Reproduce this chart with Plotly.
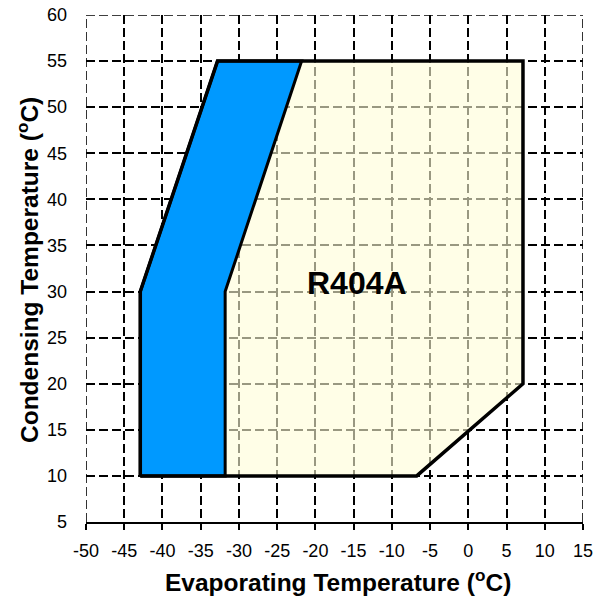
import plotly.graph_objects as go

# Envelope outline (evaporating, condensing)
env_x = [-42.9, -42.9, -32.8, 7.15, 7.15, -6.75, -42.9]
env_y = [10, 30, 55, 55, 20, 10, 10]
# Blue region
blue_x = [-42.9, -42.9, -32.8, -21.8, -31.8, -31.8, -42.9]
blue_y = [10, 30, 55, 55, 30, 10, 10]

x_ticks = list(range(-50, 16, 5))
y_ticks = list(range(5, 61, 5))

FONT = "Liberation Sans, Arial"

fig = go.Figure()
fig.add_trace(go.Scatter(x=env_x, y=env_y, fill="toself", mode="none",
                         fillcolor="rgba(255,253,215,0.6)", hoverinfo="skip"))
fig.add_trace(go.Scatter(x=blue_x, y=blue_y, fill="toself", mode="lines",
                         fillcolor="#0099FF", line=dict(color="black", width=3), hoverinfo="skip"))
fig.add_trace(go.Scatter(x=env_x, y=env_y, mode="lines",
                         line=dict(color="black", width=3.5), hoverinfo="skip"))

fig.add_annotation(x=-14.5, y=30.9, text="<b>R404A</b>", showarrow=False,
                   font=dict(family=FONT, size=32, color="black"))

# axis titles
fig.add_annotation(xref="paper", yref="paper", x=(337.5 - 86) / 497, y=(522 - 580) / 507,
                   text="<b>Evaporating Temperature (<sup>o</sup>C)</b>", showarrow=False,
                   font=dict(family=FONT, size=24.5, color="black"), xanchor="center", yanchor="middle")
fig.add_annotation(xref="paper", yref="paper", x=(27 - 86) / 497, y=(522 - 270) / 507,
                   text="<b>Condensing Temperature (<sup>o</sup>C)</b>", showarrow=False, textangle=-90,
                   font=dict(family=FONT, size=24.5, color="black"), xanchor="center", yanchor="middle")

grid = dict(showgrid=True, gridcolor="black", gridwidth=1.6, griddash="9px,4px")
fig.update_xaxes(range=[-50, 15], tickvals=x_ticks, ticktext=[str(v) for v in x_ticks],
                 showline=True, linecolor="black", linewidth=1.6,
                 ticks="outside", ticklen=6, tickcolor="black", tickwidth=1.5,
                 zeroline=False, tickfont=dict(family=FONT, size=18, color="black"),
                 automargin=False, ticklabelstandoff=6, **grid)
fig.update_yaxes(range=[5, 60], tickvals=y_ticks, ticktext=[str(v) for v in y_ticks],
                 showline=False, ticks="", zeroline=False,
                 tickfont=dict(family=FONT, size=18, color="black"),
                 automargin=False, ticklabelstandoff=18, **grid)

# dashed frame lines on top, left and right (edges of grid)
for sx0, sy0, sx1, sy1 in [(-50, 5, -50, 60), (-50, 60, 15, 60), (15, 5, 15, 60)]:
    fig.add_shape(type="line", x0=sx0, y0=sy0, x1=sx1, y1=sy1,
                  line=dict(color="black", width=1.6, dash="9px,4px"), layer="below")

fig.update_layout(width=597, height=597, showlegend=False,
                  plot_bgcolor="white", paper_bgcolor="white",
                  font=dict(family=FONT, color="black"),
                  margin=dict(l=86, r=14, t=15, b=75))
fig.write_html("out.html")
